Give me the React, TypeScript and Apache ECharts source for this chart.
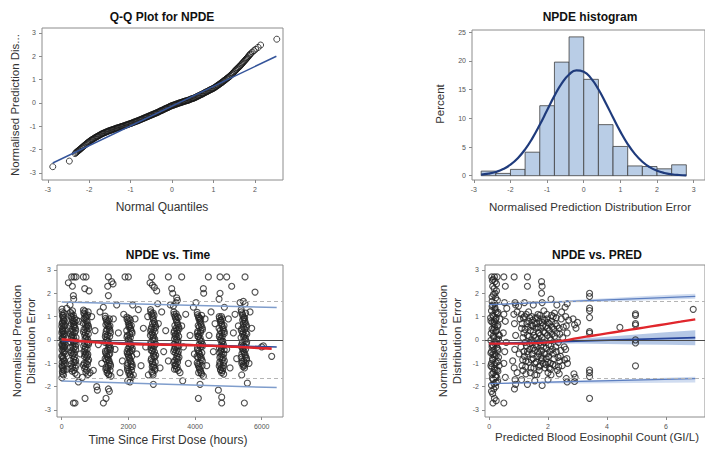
import { useEffect, useRef } from 'react';
import * as echarts from 'echarts';

const FONT = '"Liberation Sans", Arial, Helvetica, sans-serif';

// ---------- Q-Q plot: [theoretical normal quantile, observed NPDE] ----------
const qqPoints = [
  [-2.88, -2.73], [-2.48, -2.49], [-2.34, -2.17], [-2.3, -2.1], [-2.26, -2.04], [-2.22, -1.98], [-2.18, -1.92],
  [-2.14, -1.86], [-2.1, -1.8], [-2.06, -1.74], [-2.02, -1.68], [-1.98, -1.63], [-1.94, -1.58], [-1.9, -1.54],
  [-1.86, -1.49], [-1.82, -1.45], [-1.78, -1.41], [-1.74, -1.37], [-1.7, -1.33], [-1.66, -1.3], [-1.62, -1.27],
  [-1.58, -1.24], [-1.54, -1.21], [-1.5, -1.18], [-1.46, -1.16], [-1.42, -1.13], [-1.38, -1.11], [-1.34, -1.08],
  [-1.3, -1.06], [-1.26, -1.04], [-1.22, -1.01], [-1.18, -0.99], [-1.14, -0.97], [-1.1, -0.94], [-1.06, -0.92],
  [-1.02, -0.89], [-0.98, -0.87], [-0.94, -0.84], [-0.9, -0.81], [-0.86, -0.78], [-0.82, -0.76], [-0.78, -0.73],
  [-0.74, -0.7], [-0.7, -0.67], [-0.66, -0.64], [-0.62, -0.61], [-0.58, -0.58], [-0.54, -0.55], [-0.5, -0.52],
  [-0.46, -0.49], [-0.42, -0.46], [-0.38, -0.43], [-0.34, -0.4], [-0.3, -0.36], [-0.26, -0.33], [-0.22, -0.3],
  [-0.18, -0.26], [-0.14, -0.23], [-0.1, -0.2], [-0.06, -0.16], [-0.02, -0.13], [0.02, -0.1], [0.06, -0.08],
  [0.1, -0.05], [0.14, -0.03], [0.18, 0.0], [0.22, 0.02], [0.26, 0.05], [0.3, 0.07], [0.34, 0.09], [0.38, 0.11],
  [0.42, 0.14], [0.46, 0.17], [0.5, 0.19], [0.54, 0.22], [0.58, 0.25], [0.62, 0.29], [0.66, 0.32], [0.7, 0.36],
  [0.74, 0.39], [0.78, 0.43], [0.82, 0.47], [0.86, 0.5], [0.9, 0.54], [0.94, 0.58], [0.98, 0.61], [1.02, 0.65],
  [1.06, 0.7], [1.1, 0.75], [1.14, 0.8], [1.18, 0.85], [1.22, 0.9], [1.26, 0.96], [1.3, 1.01], [1.34, 1.07],
  [1.38, 1.12], [1.42, 1.19], [1.46, 1.26], [1.5, 1.33], [1.54, 1.41], [1.58, 1.48], [1.62, 1.55], [1.66, 1.62],
  [1.7, 1.7], [1.74, 1.78], [1.78, 1.86], [1.82, 1.94], [1.86, 2.03], [1.9, 2.11], [1.94, 2.18], [1.98, 2.24],
  [2.02, 2.3], [2.08, 2.38], [2.14, 2.48], [2.53, 2.73],
];
const qqPointsB = [
  [-2.32, -2.13], [-2.28, -2.07], [-2.24, -2.01], [-2.2, -1.95], [-2.16, -1.89], [-2.12, -1.83], [-2.08, -1.77],
  [-2.04, -1.71], [-2.0, -1.66], [-1.96, -1.6], [-1.92, -1.56], [-1.88, -1.51], [-1.84, -1.47], [-1.8, -1.43],
  [-1.76, -1.39], [-1.72, -1.35], [-1.68, -1.31], [-1.64, -1.28], [-1.6, -1.25], [-1.56, -1.22], [-1.52, -1.19],
  [-1.48, -1.17], [-1.44, -1.14], [-1.4, -1.12], [-1.36, -1.09], [-1.32, -1.07], [-1.28, -1.05], [-1.24, -1.02],
  [-1.2, -1.0], [-1.16, -0.98], [-1.12, -0.95], [-1.08, -0.93], [-1.04, -0.9], [-1.0, -0.88], [-0.96, -0.85],
  [-0.92, -0.82], [-0.88, -0.8], [-0.84, -0.77], [-0.8, -0.74], [-0.76, -0.71], [-0.72, -0.68], [-0.68, -0.65],
  [-0.64, -0.62], [-0.6, -0.59], [-0.56, -0.56], [-0.52, -0.53], [-0.48, -0.5], [-0.44, -0.47], [-0.4, -0.44],
  [-0.36, -0.41], [-0.32, -0.38], [-0.28, -0.34], [-0.24, -0.31], [-0.2, -0.28], [-0.16, -0.24], [-0.12, -0.21],
  [-0.08, -0.18], [-0.04, -0.14], [0.0, -0.11], [0.04, -0.09], [0.08, -0.06], [0.12, -0.04], [0.16, -0.01],
  [0.2, 0.01], [0.24, 0.03], [0.28, 0.06], [0.32, 0.08], [0.36, 0.1], [0.4, 0.12], [0.44, 0.15], [0.48, 0.18],
  [0.52, 0.2], [0.56, 0.23], [0.6, 0.27], [0.64, 0.3], [0.68, 0.34], [0.72, 0.37], [0.76, 0.41], [0.8, 0.45],
  [0.84, 0.48], [0.88, 0.52], [0.92, 0.56], [0.96, 0.59], [1.0, 0.63], [1.04, 0.67], [1.08, 0.72], [1.12, 0.77],
  [1.16, 0.82], [1.2, 0.87], [1.24, 0.93], [1.28, 0.98], [1.32, 1.04], [1.36, 1.09], [1.4, 1.15], [1.44, 1.22],
  [1.48, 1.29], [1.52, 1.37], [1.56, 1.44], [1.6, 1.51], [1.64, 1.58], [1.68, 1.66], [1.72, 1.74], [1.76, 1.82],
  [1.8, 1.9], [1.84, 1.98], [1.88, 2.07],
];
const qqLine = [[-2.88, -2.57], [2.52, 2.0]];
const qqTicksX = [-3, -2, -1, 0, 1, 2];
const npdeTicks = [-3, -2, -1, 0, 1, 2, 3];

// ---------- Histogram ----------
const binEdges = [-2.8, -2.4, -2.0, -1.6, -1.2, -0.8, -0.4, 0, 0.4, 0.8, 1.2, 1.6, 2.0, 2.4, 2.8];
const binPercent = [0.8, 0.4, 1.1, 4.1, 12.2, 19.8, 24.2, 16.8, 8.9, 5.1, 1.7, 1.6, 1.2, 1.9];
const normalX = [-2.8, -2.6, -2.4, -2.2, -2.0, -1.8, -1.6, -1.4, -1.2, -1.0, -0.8, -0.6, -0.4, -0.2, 0,
  0.2, 0.4, 0.6, 0.8, 1.0, 1.2, 1.4, 1.6, 1.8, 2.0, 2.2, 2.4, 2.6, 2.8];
const normalPercent = [0.18, 0.35, 0.65, 1.15, 1.92, 3.05, 4.59, 6.56, 8.88, 11.41, 13.92, 16.1, 17.65, 18.37, 18.13,
  16.97, 15.07, 12.69, 10.14, 7.68, 5.52, 3.76, 2.43, 1.49, 0.87, 0.48, 0.25, 0.12, 0.06];
const histTicksX = [-3, -2, -1, 0, 1, 2, 3];
const histTicksY = [0, 5, 10, 15, 20, 25];

// ---------- NPDE vs. Time: [hours since first dose, NPDE] per visit ----------
const visit0 = [[8, 1.32], [22, 1.05], [45, 0.88], [12, 0.7], [60, 0.55], [30, 0.42], [5, 0.3], [75, 0.18], [18, 0.05],
  [50, -0.05], [35, -0.18], [90, -0.3], [10, -0.42], [65, -0.55], [28, -0.68], [48, -0.8], [15, -0.95], [80, -1.08],
  [40, -1.2], [20, -1.35], [55, -1.5], [6, -1.62], [70, 0.95], [100, 0.62], [38, 0.12], [110, -0.6], [25, 0.75],
  [58, -0.3], [85, -0.9], [3, -0.2], [42, 0.25], [95, 0.4], [16, -1.15], [66, 1.15],
  [14, 1.2], [36, 0.98], [62, 0.82], [4, 0.58], [26, 0.48], [52, 0.36], [78, 0.26], [9, 0.08], [32, -0.02],
  [68, -0.12], [20, -0.26], [46, -0.36], [88, -0.48], [2, -0.7], [30, -0.78], [56, -0.88], [74, -1.0], [11, -1.1],
  [44, -1.28], [24, -1.45], [60, 0.68], [36, -0.5], [82, 0.82], [16, 0.38], [50, 1.05], [100, -0.2], [70, -1.3]];
const visit1 = [[262, 1.18], [298, 0.98], [335, 0.82], [372, 0.66], [410, 0.5], [280, 0.36], [318, 0.22], [356, 0.1],
  [395, -0.04], [432, -0.18], [268, -0.32], [305, -0.46], [343, -0.6], [381, -0.74], [420, -0.88], [290, -1.02],
  [328, -1.16], [365, -1.3], [402, -1.42], [255, 0.6], [312, 0.45], [350, 1.05], [388, 0.3], [445, 0.85], [275, -0.1],
  [330, -0.25], [362, -0.95], [418, -0.4], [296, 0.15], [348, -0.08], [380, 0.92], [325, 1.25],
  [270, 1.02], [308, 0.88], [345, 0.72], [383, 0.56], [422, 0.4], [262, 0.26], [300, 0.08], [338, -0.02],
  [376, -0.14], [412, -0.28], [284, -0.54], [322, -0.66], [360, -0.82], [398, -0.96], [436, -1.08], [278, -1.22],
  [316, -1.34], [354, -0.38], [392, 0.78], [430, 0.1], [288, 0.7], [340, 0.35], [370, -0.55], [405, -1.2],
  [265, -0.88], [300, 1.12], [358, 0.58]];
const visit2 = [[652, 1.28], [690, 1.1], [728, 0.94], [765, 0.78], [800, 0.6], [668, 0.44], [705, 0.3], [742, 0.15],
  [780, 0.02], [815, -0.12], [660, -0.26], [698, -0.4], [735, -0.55], [772, -0.7], [808, -0.85], [675, -1.0],
  [712, -1.15], [750, -1.3], [788, -1.48], [645, 0.72], [720, 0.5], [757, -0.2], [795, 1.2], [682, -0.7], [740, 1.02],
  [700, 0.05], [770, -1.05], [715, 0.65], [760, 0.38], [690, -0.15],
  [660, 1.15], [698, 0.98], [735, 0.82], [773, 0.66], [810, 0.5], [652, 0.34], [690, 0.2], [728, 0.08],
  [765, -0.08], [803, -0.2], [670, -0.5], [708, -0.62], [745, -0.76], [783, -0.92], [650, -1.08], [688, -1.22],
  [726, -1.38], [764, -0.4], [800, 0.25], [672, 0.9], [710, -0.32], [748, 0.58], [785, -0.62], [695, 1.24],
  [733, -1.0], [778, 1.06]];
const visit3 = [[1305, 1.02], [1342, 0.86], [1378, 0.7], [1415, 0.55], [1450, 0.4], [1320, 0.25], [1356, 0.1],
  [1394, -0.05], [1430, -0.2], [1465, -0.34], [1312, -0.48], [1348, -0.62], [1385, -0.76], [1422, -0.9], [1458, -1.04],
  [1330, -1.18], [1368, -1.32], [1405, -1.46], [1440, -0.6], [1300, -0.1], [1360, 0.45], [1398, -1.1], [1435, 0.9],
  [1338, -0.85], [1375, 0.2], [1410, -0.35], [1452, -1.3], [1325, 0.65],
  [1315, 0.92], [1352, 0.76], [1390, 0.6], [1428, 0.46], [1462, 0.3], [1308, 0.14], [1345, 0.0], [1383, -0.14],
  [1420, -0.28], [1458, -0.42], [1318, -0.56], [1355, -0.7], [1393, -0.84], [1430, -0.98], [1466, -1.12],
  [1325, -1.26], [1362, -1.4], [1400, 0.82], [1440, 0.15], [1335, 0.38], [1372, -0.45], [1412, -0.65], [1448, 0.6],
  [1303, -0.8], [1380, -1.2], [1420, -1.5]];
const visit4 = [[1955, 0.98], [1992, 0.82], [2030, 0.66], [2068, 0.5], [2105, 0.35], [1970, 0.2], [2008, 0.06],
  [2045, -0.08], [2083, -0.22], [2118, -0.36], [1962, -0.5], [2000, -0.64], [2038, -0.78], [2075, -0.92], [2112, -1.06],
  [1980, -1.2], [2018, -1.34], [2055, -1.48], [2092, -1.6], [1950, 0.4], [2025, -0.3], [2062, 0.85], [2100, -0.7],
  [1985, -1.0], [2040, 0.25], [2078, -1.15], [2012, 0.55], [2050, -0.5],
  [1960, 0.88], [1998, 0.72], [2036, 0.58], [2074, 0.42], [2110, 0.28], [1958, 0.12], [1995, -0.02], [2033, -0.16],
  [2070, -0.3], [2108, -0.44], [1968, -0.58], [2005, -0.72], [2043, -0.86], [2080, -1.0], [2116, -1.14],
  [1975, -1.28], [2012, -1.42], [2050, -1.55], [2088, 0.62], [2022, 0.92], [1990, -0.38], [2060, 0.1],
  [2095, -1.3], [1965, -1.1], [2030, -0.55]];
const visit5 = [[2665, 1.3], [2700, 1.12], [2738, 0.95], [2775, 0.78], [2810, 0.62], [2680, 0.46], [2718, 0.32],
  [2755, 0.18], [2792, 0.04], [2672, -0.1], [2710, -0.24], [2748, -0.38], [2785, -0.52], [2820, -0.66], [2690, -0.8],
  [2728, -0.94], [2765, -1.08], [2802, -1.22], [2705, -1.36], [2742, -1.5], [2660, 0.2], [2725, 0.7], [2760, -0.7],
  [2798, 0.35], [2685, -0.45], [2735, 0.0], [2770, 1.05], [2715, -1.15],
  [2672, 1.2], [2710, 1.02], [2748, 0.86], [2785, 0.7], [2818, 0.54], [2668, 0.38], [2705, 0.24], [2742, 0.1],
  [2780, -0.04], [2815, -0.18], [2678, -0.32], [2715, -0.46], [2752, -0.6], [2790, -0.74], [2680, -0.88],
  [2718, -1.02], [2755, -1.16], [2792, -1.3], [2730, -1.42], [2700, 0.55], [2765, 0.45], [2805, -0.95],
  [2690, -0.15], [2745, 1.15], [2775, -0.25]];
const visit6 = [[3365, 1.2], [3402, 1.02], [3440, 0.86], [3478, 0.7], [3515, 0.54], [3380, 0.38], [3418, 0.24],
  [3455, 0.1], [3492, -0.04], [3372, -0.18], [3410, -0.32], [3448, -0.46], [3485, -0.6], [3520, -0.74], [3390, -0.88],
  [3428, -1.02], [3465, -1.16], [3500, -1.3], [3360, -0.5], [3425, 0.5], [3462, -0.25], [3498, 0.95], [3385, 0.05],
  [3445, -0.8], [3472, 0.3], [3408, -1.1], [3435, 1.12],
  [3372, 1.1], [3410, 0.94], [3448, 0.78], [3485, 0.62], [3518, 0.46], [3368, 0.3], [3405, 0.16], [3442, 0.02],
  [3480, -0.12], [3515, -0.26], [3378, -0.4], [3415, -0.54], [3452, -0.68], [3490, -0.82], [3362, -0.96],
  [3400, -1.1], [3438, -1.24], [3475, -0.95], [3510, 0.15], [3395, 0.62], [3458, 0.42], [3420, -0.12],
  [3500, -0.5], [3383, -1.25], [3468, 1.0]];
const visit7 = [[4065, 1.18], [4102, 1.0], [4140, 0.84], [4178, 0.68], [4215, 0.52], [4080, 0.36], [4118, 0.22],
  [4155, 0.08], [4192, -0.06], [4228, -0.2], [4072, -0.34], [4110, -0.48], [4148, -0.62], [4185, -0.76], [4220, -0.9],
  [4090, -1.04], [4128, -1.18], [4165, -1.32], [4200, -1.46], [4060, -0.7], [4125, 0.55], [4162, -0.3], [4198, 1.05],
  [4085, 0.15], [4145, -1.0], [4172, 0.4], [4108, -1.4], [4135, 0.95],
  [4072, 1.08], [4110, 0.92], [4148, 0.76], [4185, 0.6], [4222, 0.44], [4068, 0.28], [4105, 0.14], [4142, 0.0],
  [4180, -0.14], [4218, -0.28], [4078, -0.42], [4115, -0.56], [4152, -0.7], [4190, -0.84], [4065, -0.98],
  [4102, -1.12], [4140, -1.26], [4178, -1.4], [4212, -1.1], [4095, 0.62], [4160, 0.3], [4125, -0.2],
  [4205, -0.55], [4088, -0.75], [4170, 0.9]];
const visit8 = [[4725, 1.0], [4762, 0.84], [4800, 0.68], [4838, 0.52], [4875, 0.36], [4740, 0.22], [4778, 0.08],
  [4815, -0.06], [4852, -0.2], [4732, -0.34], [4770, -0.48], [4808, -0.62], [4845, -0.76], [4880, -0.9], [4750, -1.04],
  [4788, -1.18], [4825, -1.32], [4860, -1.46], [4720, 0.5], [4785, -0.3], [4822, 0.9], [4858, -1.1], [4745, -0.75],
  [4805, 0.3], [4832, -0.05], [4768, -1.3], [4795, 1.0],
  [4732, 0.92], [4770, 0.76], [4808, 0.6], [4845, 0.44], [4878, 0.28], [4728, 0.14], [4765, 0.0], [4802, -0.14],
  [4840, -0.28], [4875, -0.42], [4738, -0.56], [4775, -0.7], [4812, -0.84], [4850, -0.98], [4725, -1.12],
  [4762, -1.26], [4800, -1.4], [4838, -1.2], [4870, 0.62], [4755, 0.4], [4818, 0.15], [4790, -0.42],
  [4860, -0.6], [4742, -0.95], [4780, 0.85]];
const visit9 = [[5385, 1.3], [5422, 1.12], [5460, 0.96], [5498, 0.8], [5535, 0.64], [5400, 0.48], [5438, 0.34],
  [5475, 0.2], [5512, 0.06], [5550, -0.08], [5392, -0.22], [5430, -0.36], [5468, -0.5], [5505, -0.64], [5542, -0.78],
  [5410, -0.92], [5448, -1.06], [5485, -1.2], [5520, -1.0], [5380, 0.1], [5445, 0.7], [5482, -0.3], [5518, 1.15],
  [5405, -0.6], [5465, -0.9], [5492, 0.45], [5428, 0.85], [5555, 0.25],
  [5392, 1.2], [5430, 1.04], [5468, 0.88], [5505, 0.72], [5542, 0.56], [5388, 0.4], [5425, 0.26], [5462, 0.12],
  [5500, -0.02], [5538, -0.16], [5398, -0.3], [5435, -0.44], [5472, -0.58], [5510, -0.72], [5548, -0.86],
  [5402, -1.0], [5440, -1.14], [5478, -1.1], [5515, -0.4], [5455, 0.55], [5490, 0.95], [5418, -0.1],
  [5528, 0.3], [5385, -0.75], [5458, -0.25]];
const timeExtremes = [[300, 2.7], [370, 2.7], [430, 2.7], [650, 2.7], [730, 2.7], [1400, 2.7], [1900, 2.7], [2000, 2.7],
  [2700, 2.7], [3200, 2.7], [3600, 2.7], [4400, 2.7], [4750, 2.7], [4950, 2.7], [5500, 2.7],
  [200, 2.45], [320, 2.3], [350, 1.9], [360, 1.75], [690, 2.2], [820, 2.1], [1500, 2.5], [1540, 2.4], [1400, 1.9],
  [1380, 2.3], [2650, 2.45], [2720, 2.35], [2780, 2.25], [2850, 2.1], [3300, 2.2], [3330, 2.0], [3450, 1.8],
  [3470, 1.7], [3430, 1.6], [4250, 2.2], [4260, 2.0], [4750, 2.0], [4720, 1.75], [5100, 2.3], [5800, 2.05],
  [5450, 1.65], [5500, 1.55],
  [350, -2.7], [400, -2.7], [700, -2.5], [1050, -2.0], [1070, -2.15], [1250, -2.7], [1330, -2.5], [1400, -2.1],
  [1430, -2.2], [2050, -1.8], [2750, -1.9], [3630, -1.75], [4100, -2.5], [4150, -1.9], [4700, -2.15], [4800, -2.45],
  [4800, -2.7], [5480, -2.7], [5570, -1.85], [500, -1.8], [620, -1.6], [1980, -1.75]];
const timeSparse = [[520, 0.8], [560, -0.6], [900, 1.0], [950, -1.3], [1000, 0.4], [1100, -0.2], [1150, 1.2],
  [1200, -1.0], [1550, 0.9], [1600, -0.4], [1650, 1.5], [1700, 0.3], [1750, -1.4], [1820, -0.9], [1860, 1.1],
  [2200, 0.9], [2250, -0.6], [2300, 1.3], [2380, -1.1], [2450, 0.5], [2520, -0.3], [2580, 1.0], [2900, 0.7],
  [2950, -1.2], [3000, 1.2], [3060, -0.5], [3120, 0.4], [3200, -0.9], [3260, 1.5], [3600, 0.6], [3650, -0.3],
  [3720, 1.1], [3800, -1.0], [3850, 0.2], [3950, 1.4], [3980, -0.6], [4300, 0.9], [4350, -1.1], [4420, 0.2],
  [4480, 1.2], [4550, -0.5], [4600, 0.7], [4950, -0.4], [5000, 0.9], [5050, -1.2], [5150, 0.3], [5200, 1.1],
  [5250, -0.8], [5300, 0.6], [5620, -1.0], [5700, 0.5], [5650, 1.2], [6000, -0.3], [6050, -0.25], [6300, -0.7],
  [250, 1.5], [150, 1.35], [160, -1.25], [460, -1.5], [850, -1.4], [1250, 1.4], [1480, -1.55], [2130, 1.5],
  [2150, -1.5], [2600, -1.5], [2880, 1.55], [3350, 1.45], [3550, -1.4], [4030, 1.6], [4250, -1.55], [4880, 1.4],
  [5350, 1.6], [5400, -1.5]];
const timeUpper = [[0, 1.63], [6450, 1.39]];
const timeLower = [[0, -1.76], [6450, -2.04]];
const timeMedian = [[0, -0.05], [6450, -0.3]];
const timeLoessX = [0, 500, 1000, 1500, 2000, 2500, 3000, 3500, 4000, 4500, 5000, 5500, 6000, 6300];
const timeLoessY = [0.03, -0.04, -0.1, -0.14, -0.17, -0.19, -0.2, -0.21, -0.23, -0.25, -0.28, -0.31, -0.35, -0.37];
const timeTicksX = [0, 2000, 4000, 6000];

// ---------- NPDE vs. PRED: [predicted eosinophil count, NPDE] ----------
const predLow = [[0.12, 1.5], [0.2, 1.38], [0.08, 1.25], [0.28, 1.12], [0.15, 1.0], [0.22, 0.88], [0.1, 0.76],
  [0.3, 0.64], [0.18, 0.52], [0.25, 0.4], [0.07, 0.28], [0.14, 0.16], [0.32, 0.04], [0.2, -0.08], [0.1, -0.2],
  [0.26, -0.32], [0.16, -0.44], [0.06, -0.56], [0.24, -0.68], [0.12, -0.8], [0.3, -0.92], [0.19, -1.04],
  [0.09, -1.16], [0.27, -1.28], [0.15, -1.4], [0.22, -1.52], [0.11, -1.64], [0.29, -1.76], [0.17, -1.88],
  [0.05, 0.95], [0.35, 0.2], [0.13, -0.62], [0.23, 1.2], [0.08, -1.0], [0.2, 0.65], [0.3, -0.45], [0.14, 0.4],
  [0.26, -1.6], [0.18, -0.15], [0.1, 1.65], [0.22, 1.8], [0.15, 1.95], [0.25, 2.1], [0.12, 2.3], [0.2, 2.5],
  [0.09, 2.7], [0.18, 2.7], [0.27, 2.7], [0.14, 2.6], [0.16, -2.1], [0.12, -2.3], [0.18, -2.5], [0.13, -2.7],
  [0.36, 0.9], [0.34, -1.1],
  [0.1, 1.44], [0.2, 1.3], [0.3, 1.18], [0.12, 1.06], [0.24, 0.94], [0.06, 0.82], [0.16, 0.7], [0.28, 0.58],
  [0.1, 0.46], [0.22, 0.34], [0.32, 0.22], [0.16, 0.1], [0.06, -0.02], [0.26, -0.14], [0.14, -0.26], [0.3, -0.38],
  [0.08, -0.5], [0.2, -0.62], [0.32, -0.74], [0.12, -0.86], [0.24, -0.98], [0.06, -1.1], [0.18, -1.22],
  [0.3, -1.34], [0.1, -1.46], [0.22, -1.58], [0.14, -1.7], [0.24, -1.82], [0.08, -1.94], [0.19, 1.55], [0.28, 1.7],
  [0.1, 1.85], [0.2, 2.0], [0.17, 2.2], [0.25, 2.4], [0.11, 2.55], [0.22, -2.0], [0.08, -2.2], [0.24, -2.6],
  [0.17, 0.8], [0.26, 0.05], [0.18, -0.72], [0.1, -0.3], [0.2, -1.3],
  [0.5, 2.7], [0.55, 2.3], [0.52, 1.6], [0.5, 1.1], [0.55, 0.8], [0.48, 0.3], [0.53, -0.5], [0.5, -1.0],
  [0.55, -1.6], [0.5, -2.7], [0.6, 1.35], [0.58, -0.1],
  [0.85, 2.7], [0.88, 1.6], [0.9, 1.5], [0.84, 1.1], [0.86, 0.7], [0.9, 0.2], [0.87, -0.4], [0.85, -1.2],
  [0.9, -1.9], [0.86, -2.1], [0.88, -1.7], [0.95, 1.2], [0.8, -0.9], [0.95, -1.4]];
const predMid = [[1.05, 0.9], [1.1, 0.5], [1.15, 0.1], [1.08, -0.3], [1.2, -0.7], [1.12, -1.1], [1.25, -1.45],
  [1.18, 0.3], [1.22, -0.1], [1.28, 0.7], [1.3, -0.5], [1.1, 1.1], [1.25, -0.9], [1.15, -1.3], [1.3, 0.2],
  [1.2, 1.0], [1.02, -0.6],
  [1.35, 0.8], [1.4, 0.4], [1.45, 0.0], [1.38, -0.4], [1.5, -0.8], [1.42, -1.2], [1.55, -1.5], [1.48, 0.6],
  [1.52, 0.2], [1.58, -0.2], [1.32, -0.6], [1.45, 1.0], [1.55, -1.0], [1.4, -1.4], [1.6, 0.5], [1.36, 0.15],
  [1.5, -0.35], [1.58, 0.95], [1.44, -0.1], [1.34, 1.2],
  [1.62, 0.7], [1.68, 0.3], [1.72, -0.1], [1.65, -0.5], [1.78, -0.9], [1.7, -1.3], [1.82, 0.9], [1.75, 0.5],
  [1.8, 0.1], [1.85, -0.3], [1.64, -0.7], [1.74, -1.1], [1.88, -0.6], [1.66, 1.1], [1.76, -0.25], [1.84, 0.35],
  [1.7, 0.8], [1.9, -1.2], [1.62, -1.5], [1.86, 1.25], [1.8, -0.8], [1.68, 0.05],
  [1.92, 0.6], [1.98, 0.2], [2.02, -0.2], [1.95, -0.6], [2.08, -1.0], [2.0, -1.4], [2.12, 0.8], [2.05, 0.4],
  [2.1, 0.0], [2.15, -0.4], [1.94, -0.8], [2.04, -1.2], [2.18, 1.0], [1.96, 1.1], [2.06, -0.5], [2.14, 0.25],
  [2.2, -0.8], [2.0, 0.75], [2.1, -1.5],
  [2.25, 0.7], [2.3, 0.3], [2.35, -0.1], [2.28, -0.5], [2.4, -0.9], [2.32, -1.3], [2.45, 0.9], [2.38, 0.5],
  [2.5, 0.1], [2.55, -0.3], [2.42, -0.7], [2.6, 1.0], [2.62, 0.6], [2.65, 0.3], [2.6, -0.4], [2.64, -0.8],
  [2.66, -1.0], [2.62, -1.65], [2.65, -1.8], [2.58, 1.4], [2.7, 0.85], [2.48, -1.1], [2.22, 1.15],
  [2.85, 0.9], [2.9, 0.65], [2.95, 0.5], [2.88, -1.45], [2.92, -1.6], [2.9, -1.78], [3.0, 0.75],
  [1.3, 2.7], [1.3, 2.3], [1.78, 2.5], [1.8, 2.3], [1.78, 2.0], [1.8, 1.6], [1.2, 1.6], [1.0, 1.45], [1.5, 1.5],
  [2.1, 1.75], [2.3, 1.5], [2.65, 1.55], [1.1, -1.7], [1.55, -1.75], [1.8, -1.95], [1.3, -1.9], [2.0, -1.7],
  [1.12, 0.7], [1.18, -0.5], [1.22, 0.45], [1.27, -0.25], [1.32, 0.55], [1.37, -0.15], [1.42, 0.65], [1.46, -0.6],
  [1.5, 0.35], [1.54, -0.45], [1.58, 0.1], [1.62, -0.3], [1.66, 0.55], [1.7, -0.6], [1.74, 0.2], [1.78, -0.45],
  [1.82, 0.6], [1.86, -0.1], [1.9, 0.3], [1.94, -0.35], [1.98, 0.5], [2.02, -0.7], [2.06, 0.1], [2.1, -0.25],
  [2.14, 0.55], [2.18, -0.6], [2.22, 0.15], [2.26, -0.3], [2.3, 0.6], [2.34, -0.75],
  [1.14, -0.85], [1.24, -1.15], [1.34, -0.95], [1.44, -0.85], [1.52, -1.2], [1.6, -0.95], [1.68, -1.15],
  [1.76, -0.75], [1.84, -1.0], [1.92, -1.05], [2.0, -0.95], [2.08, -1.25], [2.16, -1.05], [2.24, -1.1],
  [2.36, -1.15], [1.16, 0.95], [1.26, 1.1], [1.38, 0.95], [1.48, 0.85], [1.56, 0.7], [1.64, 0.95], [1.72, 1.05],
  [1.8, 0.75], [1.88, 0.85], [1.96, 0.9], [2.04, 0.7], [2.12, 1.05], [2.2, 0.45], [2.28, 0.95], [2.4, 0.25],
  [2.44, -0.45], [2.52, 0.55], [2.56, -0.85], [2.46, 1.2], [2.38, -1.45]];
const predHigh = [[3.41, 2.0], [3.41, 1.86], [3.41, 1.36], [3.41, 1.26], [3.41, 0.96], [3.41, 0.36], [3.41, 0.29],
  [3.41, -1.29], [3.41, -1.4], [3.41, -1.57], [3.41, -2.5], [4.44, 0.54], [4.97, 1.12], [4.97, 1.05], [4.97, 0.7],
  [4.97, 0.64], [4.97, 0.0], [4.97, -0.13], [4.97, -1.11], [6.93, 1.31]];
const predUpper = [[0, 1.51], [7, 1.87]];
const predLower = [[0, -1.87], [7, -1.66]];
const predMedian = [[0, -0.16], [7, 0.1]];
const predBandX = [0, 1, 2, 3, 4, 5, 6, 7];
const predMedianLo = [-0.2, -0.18, -0.16, -0.15, -0.17, -0.19, -0.21, -0.23];
const predMedianHi = [-0.12, -0.08, -0.03, 0.05, 0.14, 0.23, 0.33, 0.42];
const predUpperLo = [1.49, 1.53, 1.57, 1.61, 1.64, 1.68, 1.72, 1.76];
const predUpperHi = [1.53, 1.59, 1.66, 1.72, 1.79, 1.86, 1.93, 1.98];
const predLowerLo = [-1.89, -1.88, -1.87, -1.86, -1.85, -1.84, -1.83, -1.82];
const predLowerHi = [-1.85, -1.82, -1.78, -1.74, -1.7, -1.66, -1.62, -1.58];
const predLoessX = [0, 0.5, 1, 1.5, 2, 2.5, 3, 3.5, 4, 4.5, 5, 5.5, 6, 6.5, 7];
const predLoessY = [-0.16, -0.16, -0.16, -0.14, -0.1, -0.03, 0.08, 0.18, 0.28, 0.38, 0.48, 0.58, 0.68, 0.78, 0.88];
const predTicksX = [0, 2, 4, 6];

const REF_LIMIT = 1.645;

const pairs = (xs: number[], ys: number[]) => xs.map((x, i) => [x, ys[i]]);

function valueAxis(gridIndex: number, min: number, max: number, ticks: number[]) {
  return {
    type: 'value',
    gridIndex,
    min,
    max,
    axisLine: { show: false, onZero: false },
    axisTick: { show: true, length: 3, customValues: ticks, lineStyle: { color: '#8a8a8a', width: 1 } },
    axisLabel: {
      customValues: ticks,
      fontSize: 7,
      color: '#555',
      fontFamily: FONT,
      margin: 6,
      formatter: (v: number) => String(v),
    },
    splitLine: { show: false },
  };
}

function scatter(xAxisIndex: number, data: number[][], color: string, width = 1) {
  return {
    type: 'scatter',
    xAxisIndex,
    yAxisIndex: xAxisIndex,
    data,
    symbol: 'circle',
    symbolSize: 6,
    itemStyle: { color: 'rgba(0,0,0,0)', borderColor: color, borderWidth: width },
    silent: true,
    z: 2,
  };
}

function line(xAxisIndex: number, data: number[][], color: string, width: number, z = 3, smooth = false) {
  return {
    type: 'line',
    xAxisIndex,
    yAxisIndex: xAxisIndex,
    data,
    showSymbol: false,
    symbol: 'none',
    smooth,
    lineStyle: { color, width },
    silent: true,
    z,
  };
}

function band(xAxisIndex: number, xs: number[], lo: number[], hi: number[], color: string) {
  return {
    type: 'custom',
    xAxisIndex,
    yAxisIndex: xAxisIndex,
    data: [[xs[0], lo[0]]],
    silent: true,
    z: 1,
    renderItem: (_params: any, api: any) => {
      const top = xs.map((x, i) => api.coord([x, hi[i]]));
      const bottom = xs.map((x, i) => api.coord([x, lo[i]])).reverse();
      return { type: 'polygon', shape: { points: top.concat(bottom) }, style: { fill: color } };
    },
  };
}

function referenceLines(xAxisIndex: number) {
  return {
    type: 'line',
    xAxisIndex,
    yAxisIndex: xAxisIndex,
    data: [],
    silent: true,
    markLine: {
      silent: true,
      symbol: 'none',
      label: { show: false },
      animation: false,
      data: [
        { yAxis: 0, lineStyle: { color: '#4a4a4a', width: 1, type: 'solid' } },
        { yAxis: REF_LIMIT, lineStyle: { color: '#b5b5b5', width: 1, type: [4, 3] } },
        { yAxis: -REF_LIMIT, lineStyle: { color: '#b5b5b5', width: 1, type: [4, 3] } },
      ],
    },
    z: 1,
  };
}

function label(text: string, x: number, y: number, size: number, bold = false, rotate = false) {
  return {
    type: 'text',
    x,
    y,
    rotation: rotate ? Math.PI / 2 : 0,
    silent: true,
    style: {
      text,
      fontFamily: FONT,
      fontSize: size,
      fontWeight: bold ? 'bold' : 'normal',
      fill: bold ? '#111' : '#333',
      align: 'center',
      verticalAlign: 'middle',
      lineHeight: 14,
    },
  };
}

export default function App() {
  const ref = useRef<HTMLDivElement>(null);

  useEffect(() => {
    if (!ref.current) return;
    const chart = echarts.init(ref.current, undefined, { renderer: 'svg' });
    const timeObs = [...visit0, ...visit1, ...visit2, ...visit3, ...visit4, ...visit5, ...visit6, ...visit7,
      ...visit8, ...visit9, ...timeExtremes, ...timeSparse];
    const predObs = [...predLow, ...predMid, ...predHigh];

    chart.setOption({
      animation: false,
      backgroundColor: '#ffffff',
      grid: [
        { left: 42, top: 28, width: 241, height: 152, show: true, borderColor: '#8c8c8c', borderWidth: 1 },
        { left: 472, top: 30, width: 245, height: 150, show: true, borderColor: '#8c8c8c', borderWidth: 1 },
        { left: 57, top: 265, width: 226, height: 152, show: true, borderColor: '#8c8c8c', borderWidth: 1 },
        { left: 485, top: 265, width: 230, height: 152, show: true, borderColor: '#8c8c8c', borderWidth: 1 },
      ],
      xAxis: [
        valueAxis(0, -3.14, 2.68, qqTicksX),
        valueAxis(1, -3.05, 3.31, histTicksX),
        valueAxis(2, -141, 6639, timeTicksX),
        valueAxis(3, -0.14, 7.33, predTicksX),
      ],
      yAxis: [
        valueAxis(0, -3.3, 3.21, npdeTicks),
        valueAxis(1, -0.75, 25.4, histTicksY),
        valueAxis(2, -3.3, 3.21, npdeTicks),
        valueAxis(3, -3.3, 3.21, npdeTicks),
      ],
      series: [
        // Q-Q plot
        scatter(0, [...qqPoints, ...qqPointsB], '#151515'),
        line(0, qqLine, '#34549a', 1.5, 4),
        // Histogram
        {
          type: 'custom',
          xAxisIndex: 1,
          yAxisIndex: 1,
          silent: true,
          encode: { x: [0, 1], y: 2 },
          data: binPercent.map((v, i) => [binEdges[i], binEdges[i + 1], v]),
          renderItem: (_params: any, api: any) => {
            const p0 = api.coord([api.value(0), api.value(2)]);
            const p1 = api.coord([api.value(1), 0]);
            return {
              type: 'rect',
              shape: { x: p0[0], y: p0[1], width: p1[0] - p0[0], height: p1[1] - p0[1] },
              style: { fill: '#b9cde6', stroke: '#3f3f3f', lineWidth: 0.8 },
            };
          },
          z: 2,
        },
        line(1, pairs(normalX, normalPercent), '#1f3b7c', 2.2, 4, true),
        // NPDE vs. Time
        referenceLines(2),
        scatter(2, timeObs, '#262626', 1.15),
        line(2, timeUpper, '#7f9dcc', 1.5, 4),
        line(2, timeLower, '#7f9dcc', 1.5, 4),
        line(2, timeMedian, '#2c4a98', 1.5, 4),
        line(2, pairs(timeLoessX, timeLoessY), '#e0262c', 2.6, 5, true),
        // NPDE vs. PRED
        referenceLines(3),
        band(3, predBandX, predMedianLo, predMedianHi, 'rgba(120,155,210,0.55)'),
        band(3, predBandX, predUpperLo, predUpperHi, 'rgba(150,178,222,0.45)'),
        band(3, predBandX, predLowerLo, predLowerHi, 'rgba(150,178,222,0.45)'),
        scatter(3, predObs, '#262626', 1.15),
        line(3, predUpper, '#5d7fc0', 1.3, 4),
        line(3, predLower, '#5d7fc0', 1.3, 4),
        line(3, predMedian, '#26449a', 1.8, 4),
        line(3, pairs(predLoessX, predLoessY), '#e0262c', 2.3, 5, true),
      ],
      graphic: [
        label('Q-Q Plot for NPDE', 162, 17, 12, true),
        label('NPDE histogram', 590, 17, 12, true),
        label('NPDE vs. Time', 168, 255, 12, true),
        label('NPDE vs. PRED', 597, 255, 12, true),
        label('Normal Quantiles', 162, 207, 12),
        label('Normalised Prediction Distribution Error', 590, 207, 11.5),
        label('Time Since First Dose (hours)', 168, 440, 12),
        label('Predicted Blood Eosinophil Count (GI/L)', 597, 437, 11.5),
        label('Normalised Prediction Dis...', 15, 105, 11.5, false, true),
        label('Percent', 440, 104, 11.5, false, true),
        label('Normalised Prediction\nDistribution Error', 24, 341, 11.5, false, true),
        label('Normalised Prediction\nDistribution Error', 450, 341, 11.5, false, true),
      ],
    });
    return () => chart.dispose();
  }, []);

  return (
    <div
      ref={ref}
      style={{ position: 'fixed', left: 0, top: 0, width: 705, height: 454, background: '#fff' }}
    />
  );
}
